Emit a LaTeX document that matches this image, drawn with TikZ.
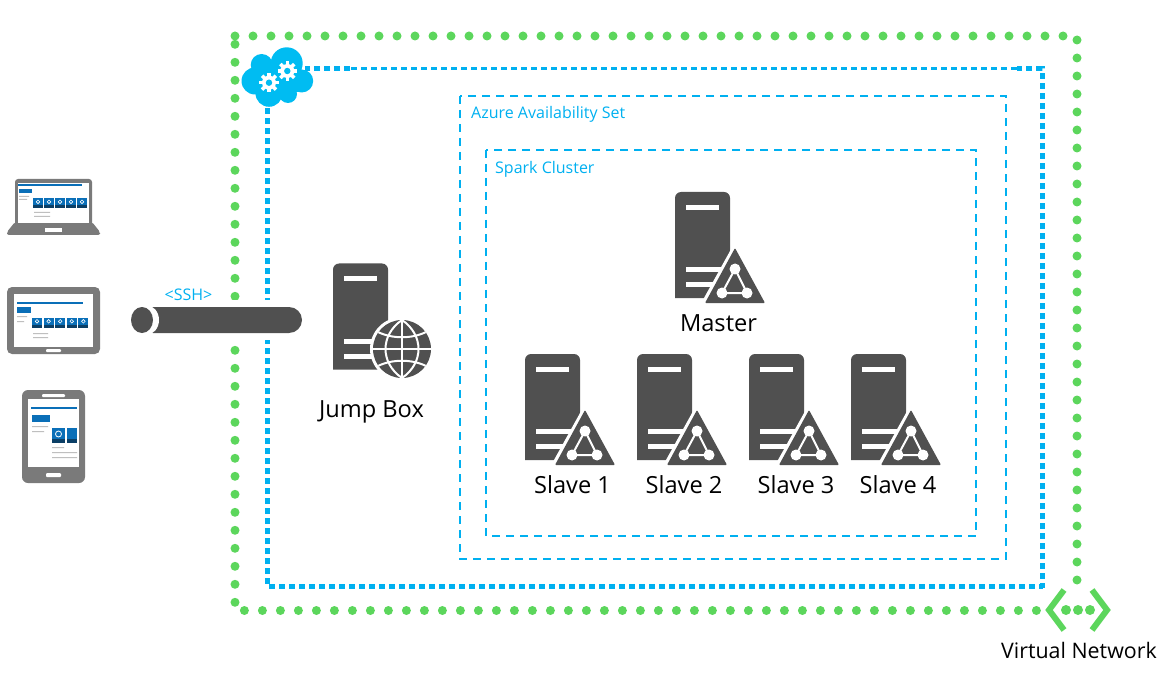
\documentclass[tikz,border=0pt]{standalone}
\usepackage{fontspec}
\setmainfont{Open Sans}
\definecolor{netgreen}{HTML}{5CD65C}
\definecolor{azblue}{HTML}{00B0F0}
\definecolor{cloudblue}{HTML}{00BCF2}
\definecolor{iconDark}{HTML}{505050}
\definecolor{deviceGrey}{HTML}{7A7A7A}
\definecolor{tileBlue}{HTML}{0A6FB8}
\definecolor{tileDark}{HTML}{0B3F66}
\tikzset{
	greendots/.style={netgreen,line width=9,line cap=round,dash pattern=on 0pt off 18pt},
	bluethick/.style={azblue,line width=5,dash pattern=on 6pt off 4pt},
	bluethin/.style={azblue,line width=3,dash pattern=on 6pt off 4pt},
	setbox/.style={azblue,line width=1.8,dash pattern=on 8pt off 6pt},
	boxlabel/.style={text=azblue,font=\fontsize{16}{18}\selectfont,anchor=west,inner sep=0},
	iconlabel/.style={text=black,font=\fontsize{23.6}{26}\selectfont,inner sep=0},
	% server body, origin at its top left corner
	pics/serverbody/.style={code={
		\fill[iconDark] (0,106) -- (0,6) arc[start angle=180,end angle=270,radius=6] -- (49,0) arc[start angle=270,end angle=360,radius=6] -- (55,106) -- cycle;
		\fill[white] (11,13) rectangle (44,18);
		\fill[white] (11,75) rectangle (50,80);
		\fill[white] (11,90) rectangle (50,95);
	}},
	pics/clusterserver/.style={code={
		\pic at (0,0) {serverbody};
		\fill[white] (60,50) -- (96,115) -- (24,115) -- cycle;
		\fill[iconDark,rounded corners=1pt] (60,56) -- (90,111) -- (30,111) -- cycle;
		\draw[white,line width=2] (60,77) -- (47,101) -- (72,101) -- cycle;
		\fill[white] (60,77) circle (5.5) (47,101) circle (5.5) (72,101) circle (5.5);
	}},
	pics/gear/.style={code={
		\fill[white] (0,0) circle (7);
		\foreach \a in {0,45,...,315}
			\fill[white,rotate=\a] (-1.8,5.5) rectangle (1.8,9.8);
		\fill[cloudblue] (0,0) circle (3.2);
	}},
	pics/tile/.style={code={
		\fill[tileBlue] (0,0) rectangle (10,10);
		\fill[tileDark] (0,7.5) rectangle (10,10);
		\draw[white,line width=.6] (5,3.8) circle (1.8);
	}}
}
\begin{document}
\begin{tikzpicture}[x=1pt,y=-1pt]
	\useasboundingbox (0,0) rectangle (1164,676);
	%VIRTUAL NETWORK
	\draw[greendots] (235,36) -- (1066,36);
	\draw[greendots] (235,44.3) -- (235,606);
	\draw[greendots] (1077,40) -- (1077,585);
	\draw[greendots] (244.4,610.5) -- (1040,610.5);
	%SUBNET
	\draw[bluethick] (267,108) -- (267,586) -- (1042,586) -- (1042,69) -- (1017,69);
	\draw[bluethin] (1017,69) -- (350,69);
	\draw[bluethick] (350,69) -- (305,69);
	%SETS
	\draw[setbox] (460,96) rectangle (1006,559);
	\draw[setbox] (486,150) rectangle (976,536);
	\node[boxlabel] (availLabel) at (471,114) {Azure Availability Set};
	\node[boxlabel] (sparkLabel) at (495,169) {Spark Cluster};
	%CLOUD
	\fill[cloudblue] (261.7,65) circle (11) (286.7,63.3) circle (16) (255,81) circle (13.5) (301.7,81) circle (11.5) (269,93.3) circle (13.5) (288,94) circle (9);
	\fill[cloudblue] (258,62) rectangle (298,92);
	\pic at (269,82.7) {gear};
	\pic at (287.3,71) {gear};
	%PIPE
	\fill[white] (125,300) rectangle (310,340);
	\fill[iconDark,rounded corners=13pt] (140,307) rectangle (302,333);
	\fill[white] (146,320) ellipse (13 and 15);
	\fill[white] (125,300) rectangle (140,340);
	\fill[iconDark] (142,320) ellipse (11 and 13);
	\node[boxlabel,anchor=center] (sshLabel) at (188.5,295) {<SSH>};
	%JUMP BOX
	\pic at (333,263.5) {serverbody};
	\fill[white] (402,349) circle (32);
	\fill[iconDark] (402,349) circle (29);
	\begin{scope}
		\clip (402,349) circle (29);
		\draw[white,line width=2] (402,320) -- (402,378);
		\draw[white,line width=2] (402,320) .. controls (380,335) and (380,363) .. (402,378);
		\draw[white,line width=2] (402,320) .. controls (424,335) and (424,363) .. (402,378);
		\draw[white,line width=2] (373,349) -- (431,349);
		\draw[white,line width=2] (378,332) .. controls (392,339) and (412,339) .. (426,332);
		\draw[white,line width=2] (378,366) .. controls (392,359) and (412,359) .. (426,366);
	\end{scope}
	\node[iconlabel] (jumpLabel) at (371.5,412) {Jump Box};
	%CLUSTER
	\pic at (675,192) {clusterserver};
	\pic at (525,354) {clusterserver};
	\pic at (637,354) {clusterserver};
	\pic at (749,354) {clusterserver};
	\pic at (851,354) {clusterserver};
	\node[iconlabel] (masterLabel) at (718.5,323) {Master};
	\node[iconlabel] (slaveOne) at (572.5,484.5) {Slave 1};
	\node[iconlabel] (slaveTwo) at (684,484.5) {Slave 2};
	\node[iconlabel] (slaveThree) at (796,484.5) {Slave 3};
	\node[iconlabel] (slaveFour) at (898,484.5) {Slave 4};
	%VNET ICON
	\fill[white] (1043,588) rectangle (1113,632);
	\draw[netgreen,line width=6] (1064,590) -- (1049,610) -- (1064,630);
	\draw[netgreen,line width=6] (1092,590) -- (1107,610) -- (1092,630);
	\fill[netgreen] (1066,610) circle (5) (1078,610) circle (5) (1090,610) circle (5);
	\node[iconlabel,font=\fontsize{21.4}{23}\selectfont] (vnetLabel) at (1079,650.5) {Virtual Network};
	%LAPTOP
	\fill[deviceGrey,rounded corners=3pt] (15,179) rectangle (92,226);
	\fill[deviceGrey,rounded corners=2pt] (15,222) -- (92,222) -- (100,232) -- (100,235) -- (7,235) -- (7,232) -- cycle;
	\fill[white] (18,183) rectangle (89,223);
	\fill[white] (45,228) rectangle (62,232);
	\fill[tileBlue] (18,184) rectangle (82,186);
	\fill[tileBlue] (19,189) rectangle (32,193);
	\foreach \i in {0,1,2,3,4}
		\pic at (33+\i*11,198) {tile};
	\fill[black!25] (34,212) rectangle (50,213) (34,216) rectangle (50,217) (19,196) rectangle (29,197) (19,199) rectangle (27,200);
	%TABLET
	\fill[deviceGrey,rounded corners=5pt] (7,287) rectangle (100,354);
	\fill[white] (14,294) rectangle (93,347);
	\fill[white,rounded corners=1pt] (46,349) rectangle (61,352);
	\fill[tileBlue] (17,302) rectangle (83,304);
	\fill[tileBlue] (17,307) rectangle (31,313);
	\foreach \i in {0,1,2,3,4}
		\pic at (32+\i*11.6,317.5) {tile};
	\fill[black!25] (33,333) rectangle (48,334) (33,337) rectangle (48,338) (17,316) rectangle (27,317) (17,321) rectangle (24,322);
	%PHONE
	\fill[deviceGrey,rounded corners=6pt] (22,390) rectangle (85,483);
	\fill[white] (28,399) rectangle (79,467);
	\fill[white,rounded corners=1pt] (42,394) rectangle (65,397);
	\fill[white,rounded corners=1pt] (46,473) rectangle (61,477);
	\fill[tileBlue] (31,407) rectangle (77,409);
	\fill[tileBlue] (32,415) rectangle (50,422);
	\fill[tileBlue] (52,428) rectangle (65,443);
	\fill[tileDark] (52,439) rectangle (65,443);
	\draw[white,line width=.8] (58.5,434) circle (3);
	\fill[tileBlue] (67,428) rectangle (77,443);
	\fill[tileDark] (67,439) rectangle (77,443);
	\fill[black!25] (52,447) rectangle (64,448) (52,452) rectangle (77,453) (52,457) rectangle (77,458) (32,426) rectangle (48,427) (32,431) rectangle (44,432);
\end{tikzpicture}
\end{document}
